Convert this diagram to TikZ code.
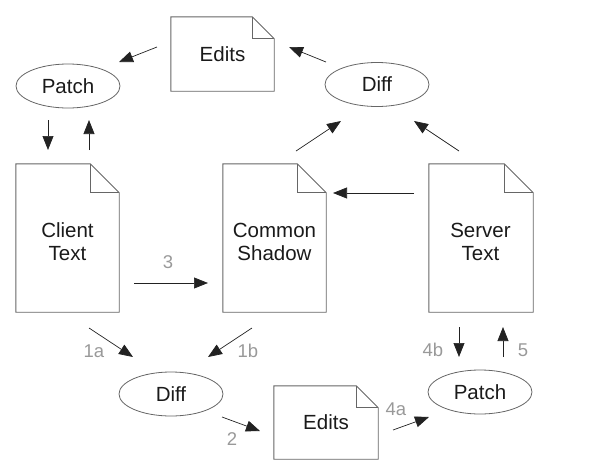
\documentclass[tikz,border=0pt]{standalone}
\usepackage{fontspec}
\setmainfont{Liberation Sans}
\usetikzlibrary{shapes.geometric,arrows.meta}
\definecolor{outl}{HTML}{666666}
\definecolor{lblc}{HTML}{999999}
\definecolor{txtc}{HTML}{1A1A1A}
\definecolor{arrc}{HTML}{222222}
\newcommand\docoutline[2]{%
  \draw[outline] (#1.north west) -- ([xshift=-#2pt]#1.north east) -- ([yshift=-#2pt]#1.north east) -- (#1.south east) -- (#1.south west) -- cycle;
  \draw[outline] ([xshift=-#2pt]#1.north east) -- ++(0,#2) -- ++(#2,0);}
\begin{document}
\begin{tikzpicture}[x=1pt,y=-1pt,
  outline/.style={draw=outl, line width=0.9pt, line join=miter},
  docbox/.style={rectangle, inner sep=0pt, text=txtc, font=\fontsize{20.5}{23}\selectfont},
  doctext/.style={inner sep=0pt, align=center, text=txtc, font=\fontsize{20.5}{23}\selectfont},
  proc/.style={ellipse, draw=outl, line width=0.8pt, inner sep=0pt, minimum width=104pt, minimum height=44pt, text=txtc, font=\fontsize{20.5}{23}\selectfont},
  arr/.style={draw=arrc, line width=0.7pt, -{Triangle[length=14pt,width=11pt]}},
  steplbl/.style={inner sep=0pt, text=lblc, font=\fontsize{18.5}{21}\selectfont}]
\useasboundingbox (0,0) rectangle (590,472);
% documents
\node[docbox, minimum width=103pt, minimum height=74pt] (edtop) at (222.5,54) {Edits};
\node[docbox, minimum width=103pt, minimum height=148pt] (client) at (67.5,238) {};
\node[docbox, minimum width=103pt, minimum height=148pt] (common) at (274.5,238) {};
\node[docbox, minimum width=104pt, minimum height=148pt] (server) at (481,238) {};
\node[docbox, minimum width=104pt, minimum height=73pt] (edbot) at (326,422.5) {Edits};
\docoutline{edtop}{22}
\docoutline{client}{29}
\docoutline{common}{29}
\docoutline{server}{29}
\docoutline{edbot}{22}
\node[doctext] (clientT) at (67.5,241.5) {Client\\Text};
\node[doctext] (commonT) at (274.5,241.5) {Common\\Shadow};
\node[doctext] (serverT) at (480.5,241.5) {Server\\Text};
% processes
\node[proc] (patchtop) at (68,86) {Patch};
\node[proc] (difftop) at (377,84.5) {Diff};
\node[proc] (diffbot) at (171,394) {Diff};
\node[proc] (patchbot) at (480,392) {Patch};
% arrow end points
\coordinate (e1s) at (157,47);  \coordinate (e1e) at (119,62);
\coordinate (e2s) at (326,62);  \coordinate (e2e) at (289,47);
\coordinate (e3s) at (48,120);  \coordinate (e3e) at (48,150);
\coordinate (e4s) at (89,150);  \coordinate (e4e) at (89,120);
\coordinate (e5s) at (296,151); \coordinate (e5e) at (341,121);
\coordinate (e6s) at (459,151); \coordinate (e6e) at (414,121);
\coordinate (e7s) at (414,193); \coordinate (e7e) at (333,193);
\coordinate (e8s) at (134,283); \coordinate (e8e) at (208,283);
\coordinate (e9s) at (89,328);  \coordinate (e9e) at (133,357);
\coordinate (e10s) at (252,328); \coordinate (e10e) at (208,357);
\coordinate (e11s) at (222,417); \coordinate (e11e) at (260,431);
\coordinate (e12s) at (393,430); \coordinate (e12e) at (429,417);
\coordinate (e13s) at (459,327); \coordinate (e13e) at (459,357);
\coordinate (e14s) at (503,357); \coordinate (e14e) at (503,327);
\draw[arr] (e1s) -- (e1e);
\draw[arr] (e2s) -- (e2e);
\draw[arr] (e3s) -- (e3e);
\draw[arr] (e4s) -- (e4e);
\draw[arr] (e5s) -- (e5e);
\draw[arr] (e6s) -- (e6e);
\draw[arr] (e7s) -- (e7e);
\draw[arr] (e8s) -- (e8e);
\draw[arr] (e9s) -- (e9e);
\draw[arr] (e10s) -- (e10e);
\draw[arr] (e11s) -- (e11e);
\draw[arr] (e12s) -- (e12e);
\draw[arr] (e13s) -- (e13e);
\draw[arr] (e14s) -- (e14e);
% step labels
\node[steplbl] (l3) at (168,262) {3};
\node[steplbl] (l1a) at (94,351) {1a};
\node[steplbl] (l1b) at (248,351) {1b};
\node[steplbl] (l2) at (232,439) {2};
\node[steplbl] (l4a) at (396,409) {4a};
\node[steplbl] (l4b) at (433,350) {4b};
\node[steplbl] (l5) at (523,350) {5};
\end{tikzpicture}
\end{document}
